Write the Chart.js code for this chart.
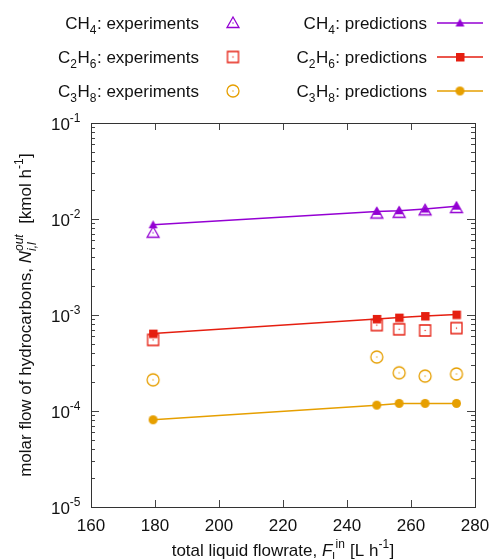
<!DOCTYPE html>
<html>
<head>
<meta charset="utf-8">
<script src="https://cdn.jsdelivr.net/npm/chart.js@4.4.1/dist/chart.umd.min.js"></script>
<style>
  html, body { margin: 0; padding: 0; background: #fff; }
  #wrap { width: 492px; height: 559px; position: relative; }
</style>
</head>
<body>
<div id="wrap"><canvas id="c" width="492" height="559"></canvas></div>
<script>
// Total liquid flowrate [L/h] for each run
const flowrate = [179.4, 249.3, 256.3, 264.4, 274.2];

// Measured outlet molar flows [kmol/h]
const ch4Exp  = [7.2e-3, 1.14e-2, 1.16e-2, 1.23e-2, 1.30e-2];
const c2h6Exp = [5.5e-4, 7.85e-4, 7.1e-4, 6.9e-4, 7.3e-4];
const c3h8Exp = [2.11e-4, 3.65e-4, 2.50e-4, 2.31e-4, 2.43e-4];

// Model predictions [kmol/h]
const ch4Pred  = [8.7e-3, 1.20e-2, 1.22e-2, 1.27e-2, 1.36e-2];
const c2h6Pred = [6.4e-4, 9.1e-4, 9.4e-4, 9.75e-4, 1.01e-3];
const c3h8Pred = [8.1e-5, 1.15e-4, 1.20e-4, 1.20e-4, 1.20e-4];

// Axis ticks
const xTicks = [160, 180, 200, 220, 240, 260, 280];
const yExponents = [-5, -4, -3, -2, -1];

const PURPLE = '#9400d3', RED = '#e51e10', ORANGE = '#e69f00';
const FONT = '"Liberation Sans", Arial, Helvetica, sans-serif';
const FS = 17;

// Marker sprites in the gnuplot style (open symbols carry a centre dot)
function marker(shape, size, color, filled) {
  const pad = 2, s = size + pad * 2;
  const cv = document.createElement('canvas');
  cv.width = s; cv.height = s;
  const g = cv.getContext('2d');
  const c = s / 2, r = size / 2;
  g.strokeStyle = color; g.fillStyle = color; g.lineWidth = 1.3;
  g.beginPath();
  if (shape === 'triangle') {
    g.moveTo(c, c - r); g.lineTo(c + r, c + r * 0.75); g.lineTo(c - r, c + r * 0.75); g.closePath();
  } else if (shape === 'square') {
    g.rect(c - r, c - r, size, size);
  } else {
    g.arc(c, c, r, 0, Math.PI * 2);
  }
  if (filled) g.fill(); else g.stroke();
  if (!filled) { g.fillRect(c - 0.6, c - 0.6, 1.2, 1.2); }
  return cv;
}

const mk = {
  triO: marker('triangle', 12, PURPLE, false),
  triF: marker('triangle', 9, PURPLE, true),
  sqO: marker('square', 11, RED, false),
  sqF: marker('square', 8.5, RED, true),
  ciO: marker('circle', 12, ORANGE, false),
  ciF: marker('circle', 9, ORANGE, true)
};

function pts(ys) { return flowrate.map((x, i) => ({ x, y: ys[i] })); }

function expSet(label, ys, img) {
  return { label, data: pts(ys), showLine: false, pointStyle: img, pointRadius: 6, pointHoverRadius: 6 };
}
function predSet(label, ys, color, img) {
  return { label, data: pts(ys), showLine: true, borderColor: color, borderWidth: 1.5,
           pointStyle: img, pointRadius: 5, pointHoverRadius: 5, tension: 0 };
}

// Draw a run of text pieces with sub/superscripts; returns total width
function rich(ctx, parts, x, y, align, size) {
  const small = Math.round(size * 0.72);
  const pieces = [];
  let w = 0;
  for (let i = 0; i < parts.length; i++) {
    const p = parts[i];
    if (p.stack) {
      ctx.font = (p.it ? 'italic ' : '') + small + 'px ' + FONT;
      const w1 = ctx.measureText(p.sub).width, w2 = ctx.measureText(p.sup).width;
      pieces.push({ p, x: w }); w += Math.max(w1, w2) + 1;
    } else {
      const fs = p.s ? small : size;
      ctx.font = (p.it ? 'italic ' : '') + fs + 'px ' + FONT;
      const tw = ctx.measureText(p.t).width;
      pieces.push({ p, x: w }); w += tw + (p.s ? 0.5 : 0);
    }
  }
  let x0 = x;
  if (align === 'right') x0 = x - w; else if (align === 'center') x0 = x - w / 2;
  ctx.textBaseline = 'alphabetic';
  ctx.textAlign = 'left';
  for (const q of pieces) {
    const p = q.p;
    if (p.stack) {
      ctx.font = (p.it ? 'italic ' : '') + small + 'px ' + FONT;
      ctx.fillText(p.sub, x0 + q.x, y + size * 0.3);
      ctx.fillText(p.sup, x0 + q.x, y - size * 0.45);
    } else {
      const fs = p.s ? small : size;
      ctx.font = (p.it ? 'italic ' : '') + fs + 'px ' + FONT;
      const dy = p.s === 'sub' ? size * 0.3 : p.s === 'sup' ? -size * 0.45 : 0;
      ctx.fillText(p.t, x0 + q.x, y + dy);
    }
  }
  return w;
}

const frame = {
  id: 'frame',
  afterDraw(chart) {
    const { ctx, chartArea: a, scales } = chart;
    const xs = scales.x, ys = scales.y;
    ctx.save();
    ctx.strokeStyle = '#444';
    ctx.lineWidth = 1;
    // ticks on all four sides, pointing inwards
    ctx.beginPath();
    for (const v of xTicks) {
      const px = Math.round(xs.getPixelForValue(v)) + 0.5;
      ctx.moveTo(px, a.bottom); ctx.lineTo(px, a.bottom - 7);
      ctx.moveTo(px, a.top); ctx.lineTo(px, a.top + 7);
    }
    for (const e of yExponents) {
      const py = Math.round(ys.getPixelForValue(Math.pow(10, e))) + 0.5;
      ctx.moveTo(a.left, py); ctx.lineTo(a.left + 8, py);
      ctx.moveTo(a.right, py); ctx.lineTo(a.right - 8, py);
      if (e < -1) {
        for (let m = 2; m <= 9; m++) {
          const pm = Math.round(ys.getPixelForValue(m * Math.pow(10, e))) + 0.5;
          ctx.moveTo(a.left, pm); ctx.lineTo(a.left + 4, pm);
          ctx.moveTo(a.right, pm); ctx.lineTo(a.right - 4, pm);
        }
      }
    }
    ctx.stroke();
    ctx.strokeStyle = '#333';
    ctx.strokeRect(Math.round(a.left) + 0.5, Math.round(a.top) + 0.5,
                   Math.round(a.right - a.left), Math.round(a.bottom - a.top));

    ctx.fillStyle = '#111';
    // x tick labels
    ctx.font = FS + 'px ' + FONT;
    ctx.textAlign = 'center'; ctx.textBaseline = 'middle';
    for (const v of xTicks) ctx.fillText(String(v), xs.getPixelForValue(v), a.bottom + 19);
    // y tick labels: 10^n
    for (const e of yExponents) {
      const py = ys.getPixelForValue(Math.pow(10, e));
      rich(ctx, [{ t: '10' }, { t: String(e), s: 'sup' }], a.left - 10, py + 7, 'right', FS);
    }
    // x title
    rich(ctx, [{ t: 'total liquid flowrate, ' }, { t: 'F', it: true }, { t: 'l', s: 'sub' },
               { t: 'in', s: 'sup' }, { t: ' [L h' }, { t: '-1', s: 'sup' }, { t: ']' }],
         (a.left + a.right) / 2, a.bottom + 49, 'center', FS);
    // y title (rotated)
    ctx.save();
    ctx.translate(31, (a.top + a.bottom) / 2);
    ctx.rotate(-Math.PI / 2);
    rich(ctx, [{ t: 'molar flow of hydrocarbons, ' }, { t: 'N', it: true },
               { stack: true, sub: 'i,l', sup: 'out', it: true }, { t: '  [kmol h' },
               { t: '-1', s: 'sup' }, { t: ']' }], 0, 0, 'center', FS);
    ctx.restore();

    // key
    const rows = [
      { sp: [{ t: 'CH' }, { t: '4', s: 'sub' }], open: mk.triO, fill: mk.triF, col: PURPLE, y: 23 },
      { sp: [{ t: 'C' }, { t: '2', s: 'sub' }, { t: 'H' }, { t: '6', s: 'sub' }], open: mk.sqO, fill: mk.sqF, col: RED, y: 57 },
      { sp: [{ t: 'C' }, { t: '3', s: 'sub' }, { t: 'H' }, { t: '8', s: 'sub' }], open: mk.ciO, fill: mk.ciF, col: ORANGE, y: 91 }
    ];
    for (const r of rows) {
      rich(ctx, r.sp.concat([{ t: ': experiments' }]), 199, r.y + 6, 'right', FS);
      ctx.drawImage(r.open, 233 - r.open.width / 2, r.y - r.open.height / 2);
      rich(ctx, r.sp.concat([{ t: ': predictions' }]), 427, r.y + 6, 'right', FS);
      ctx.strokeStyle = r.col; ctx.lineWidth = 1.5;
      ctx.beginPath(); ctx.moveTo(437, r.y); ctx.lineTo(483, r.y); ctx.stroke();
      ctx.drawImage(r.fill, 460 - r.fill.width / 2, r.y - r.fill.height / 2);
    }
    ctx.restore();
  }
};

new Chart(document.getElementById('c'), {
  type: 'scatter',
  data: {
    datasets: [
      expSet('CH4: experiments', ch4Exp, mk.triO),
      expSet('C2H6: experiments', c2h6Exp, mk.sqO),
      expSet('C3H8: experiments', c3h8Exp, mk.ciO),
      predSet('CH4: predictions', ch4Pred, PURPLE, mk.triF),
      predSet('C2H6: predictions', c2h6Pred, RED, mk.sqF),
      predSet('C3H8: predictions', c3h8Pred, ORANGE, mk.ciF)
    ]
  },
  options: {
    responsive: false,
    animation: false,
    devicePixelRatio: 1,
    layout: { padding: { left: 91, right: 17, top: 123, bottom: 52 } },
    plugins: { legend: { display: false }, tooltip: { enabled: false } },
    scales: {
      x: { type: 'linear', min: 160, max: 280, display: false },
      y: { type: 'logarithmic', min: 1e-5, max: 1e-1, display: false }
    }
  },
  plugins: [frame]
});
</script>
</body>
</html>
